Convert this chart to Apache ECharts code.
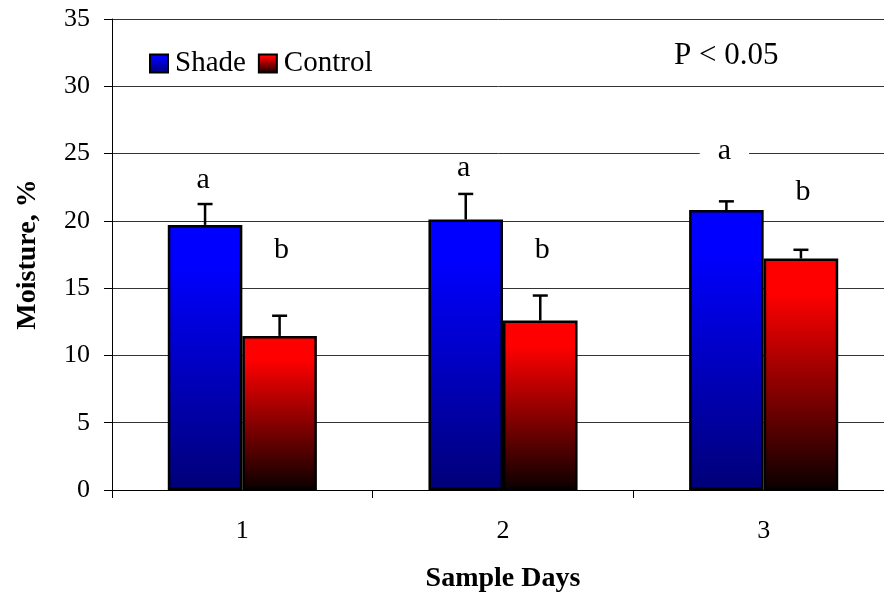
<!DOCTYPE html>
<html>
<head>
<meta charset="utf-8">
<script src="https://cdn.jsdelivr.net/npm/echarts@6/dist/echarts.min.js"></script>
<style>
  html, body { margin: 0; padding: 0; background: #fff; }
  #chart { width: 884px; height: 595px; }
</style>
</head>
<body>
<div id="chart"></div>
<script>
var days = ['1', '2', '3'];
var seriesNames = ['Shade', 'Control'];
var shadeMeans = [19.7, 20.1, 20.8];
var shadeTops = [21.25, 22.0, 21.45];
var controlMeans = [11.45, 12.6, 17.2];
var controlTops = [12.95, 14.45, 17.85];
var shadeLetters = ['a', 'a', 'a'];
var shadeLetterY = [23.0, 23.9, 25.2];
var controlLetters = ['b', 'b', 'b'];
var controlLetterY = [17.8, 17.8, 22.1];
var yTicks = [0, 5, 10, 15, 20, 25, 30, 35];

var serif = 'Liberation Serif';
var chart = echarts.init(document.getElementById('chart'));

function grad(c1, c2) {
	return new echarts.graphic.LinearGradient(0, 0, 0, 1, [
		{ offset: 0, color: c1 },
		{ offset: 0.15, color: c1 },
		{ offset: 1, color: c2 }
	]);
}

// half of the bar width, as a share of the category band
var halfBar = 0.143;

function errorRender(side) {
	return function(params, api) {
		var x = api.value(0);
		var lo = api.coord([x, api.value(1)]);
		var hi = api.coord([x, api.value(2)]);
		var cx = lo[0] + side * api.size([1, 0])[0] * halfBar;
		var st = { stroke: '#000', lineWidth: 2.5 };
		return {
			type: 'group',
			children: [
				{ type: 'line', shape: { x1: cx, y1: lo[1], x2: cx, y2: hi[1] }, style: st },
				{ type: 'line', shape: { x1: cx - 7.5, y1: hi[1], x2: cx + 7.5, y2: hi[1] }, style: st }
			]
		};
	};
}

function letterRender(side, letters) {
	return function(params, api) {
		var x = api.value(0);
		var v = api.value(1);
		var p = api.coord([x, v]);
		var cx = p[0] + side * api.size([1, 0])[0] * halfBar;
		// a letter that sits on a grid line hides it behind a white box
		var onLine = Math.abs(v - Math.round(v / 5) * 5) < 0.6;
		return {
			type: 'text',
			x: cx + side * 2,
			y: p[1],
			style: {
				text: letters[params.dataIndex],
				fill: '#000',
				font: '30px "' + serif + '"',
				align: 'center',
				verticalAlign: 'middle',
				backgroundColor: onLine ? '#fff' : null,
				padding: onLine ? [0, 18] : 0
			}
		};
	};
}

var option = {
	backgroundColor: '#fff',
	animation: false,
	textStyle: { fontFamily: serif },
	grid: { left: 112, top: 19, right: -10, bottom: 105, outerBoundsMode: 'none', containLabel: false },
	legend: {
		data: seriesNames,
		left: 144,
		top: 44,
		itemWidth: 18,
		itemHeight: 18,
		itemGap: 12,
		icon: 'rect',
		itemStyle: { borderColor: '#000', borderWidth: 2 },
		textStyle: { fontFamily: serif, fontSize: 29, color: '#000', padding: [0, 0, 0, 2] }
	},
	graphic: [{
		type: 'text',
		left: 674,
		top: 40,
		style: { text: 'P < 0.05', font: '31px "' + serif + '"', fill: '#000' }
	}],
	xAxis: {
		type: 'category',
		data: days,
		name: 'Sample Days',
		nameLocation: 'middle',
		nameGap: 75,
		nameTextStyle: { fontFamily: serif, fontSize: 28, fontWeight: 'bold', color: '#000' },
		axisLine: { lineStyle: { color: '#000', width: 1 } },
		axisTick: { show: true, interval: 0, length: 8, lineStyle: { color: '#000' } },
		axisLabel: { fontFamily: serif, fontSize: 26, color: '#000', margin: 28 }
	},
	yAxis: {
		type: 'value',
		min: yTicks[0],
		max: yTicks[yTicks.length - 1],
		interval: 5,
		name: 'Moisture, %',
		nameLocation: 'middle',
		nameGap: 70,
		nameTextStyle: { fontFamily: serif, fontSize: 28, fontWeight: 'bold', color: '#000' },
		axisLine: { show: true, lineStyle: { color: '#000', width: 1 } },
		axisTick: { show: true, length: 8, lineStyle: { color: '#000' } },
		axisLabel: { fontFamily: serif, fontSize: 26, color: '#000', margin: 22 },
		splitLine: { lineStyle: { color: '#333', width: 1 } }
	},
	series: [
		{
			name: seriesNames[0],
			type: 'bar',
			data: shadeMeans,
			barWidth: '28.6%',
			barGap: '0%',
			itemStyle: { color: grad('#0000ff', '#000078'), borderColor: '#000', borderWidth: 2.5 }
		},
		{
			name: seriesNames[1],
			type: 'bar',
			data: controlMeans,
			barWidth: '28.6%',
			itemStyle: { color: grad('#ff0000', '#0a0000'), borderColor: '#000', borderWidth: 2.5 }
		},
		{
			type: 'custom',
			renderItem: errorRender(-1),
			data: shadeMeans.map(function(v, i) { return [i, v, shadeTops[i]]; }),
			z: 3
		},
		{
			type: 'custom',
			renderItem: errorRender(1),
			data: controlMeans.map(function(v, i) { return [i, v, controlTops[i]]; }),
			z: 3
		},
		{
			type: 'custom',
			renderItem: letterRender(-1, shadeLetters),
			data: shadeLetterY.map(function(v, i) { return [i, v]; }),
			z: 4
		},
		{
			type: 'custom',
			renderItem: letterRender(1, controlLetters),
			data: controlLetterY.map(function(v, i) { return [i, v]; }),
			z: 4
		}
	]
};

chart.setOption(option);
</script>
</body>
</html>
